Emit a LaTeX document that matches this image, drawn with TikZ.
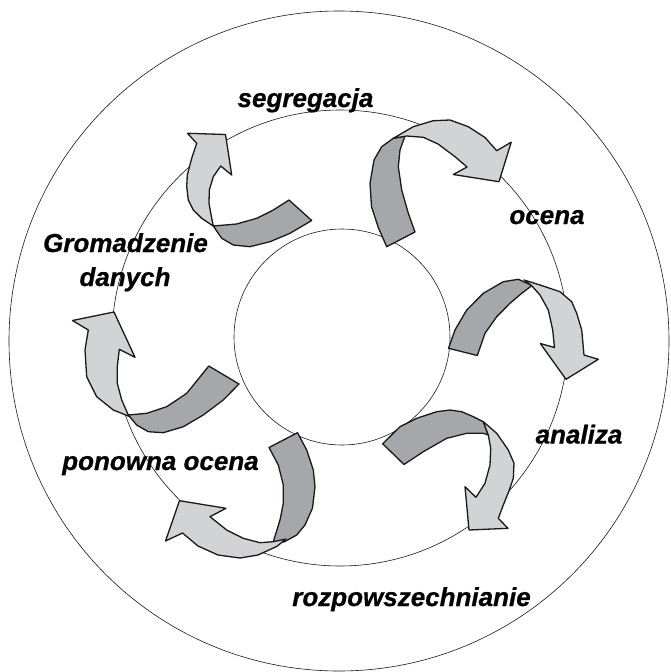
\documentclass[tikz,border=0pt]{standalone}
\usepackage{fontspec}
\setmainfont{Liberation Sans}
\newfontface\lblfont[FakeBold=0.7]{Liberation Sans Bold Italic}
\definecolor{darkfill}{RGB}{166,167,170}
\definecolor{lightfill}{RGB}{210,211,213}
\definecolor{edge}{RGB}{25,25,25}
\tikzset{
  ring/.style={draw=edge, line width=0.6pt},
  backside/.style={fill=darkfill, draw=edge, line width=1.3pt, line join=round},
  frontside/.style={fill=lightfill, draw=edge, line width=1.3pt, line join=round},
  lbl/.style={inner sep=0pt, anchor=base, font=\fontsize{26}{30}\lblfont}
}
\begin{document}
\begin{tikzpicture}[x=1pt, y=-1pt]
\fill[white] (0,0) rectangle (670,672);
\useasboundingbox (0,0) rectangle (670,672);
% circles
\draw[ring] (339,341) circle[radius=330];
\draw[ring] (340,338) circle[radius=228];
\draw[ring] (342,337) circle[radius=108];

% arrow 1 (top-left)
\draw[backside] (213.3,226) -- (236.7,224) -- (256.7,218.3) -- (273.3,210) -- (289,200) -- (311.7,220.5) -- (290,233.3) -- (270,241.7) -- (250,246.7) -- (233.3,245) -- (221.7,238.3) -- cycle;
\draw[frontside] (225.5,134.5) -- (231.7,175) -- (220.7,166) -- (213.3,176.7) -- (209.3,190) -- (209,203.3) -- (211.7,218.3) -- (213.3,226) -- (201.7,218.3) -- (193.3,210) -- (188.3,200) -- (186.7,186.7) -- (187.3,175) -- (191.7,158.3) -- (196.7,143.3) -- (187.5,133.3) -- cycle;

% arrow 2 (top-right)
\draw[backside] (386.7,246.7) -- (415,232) -- (408.3,213.3) -- (401.7,190) -- (398.3,166.7) -- (400,150) -- (405,136) -- (393.3,138.3) -- (381.7,146.7) -- (374,160) -- (370,183.3) -- (371.5,206.7) -- (378.3,227.5) -- cycle;
\draw[frontside] (393.3,138.3) -- (413.3,126.7) -- (433.3,120.7) -- (450,120) -- (468.3,126.7) -- (485,137.5) -- (496.7,150.7) -- (511.2,142.2) -- (499,181.7) -- (453.3,174.5) -- (467,167) -- (455,156.7) -- (438,144) -- (423.3,137.3) -- (406.7,136) -- cycle;

% arrow 3 (right)
\draw[backside] (448.5,348.3) -- (477.3,355.5) -- (485,333.3) -- (496.7,316.7) -- (510,303.3) -- (521.7,293.3) -- (532,285.5) -- (518.3,279.3) -- (503.3,281.7) -- (483.3,293.3) -- (466.7,310) -- (455,330) -- cycle;
\draw[frontside] (524,280) -- (540,285) -- (560,291.7) -- (571.7,301.7) -- (576.7,313.3) -- (581.7,330) -- (584,355) -- (598.3,359.3) -- (566,379.3) -- (540.3,343.5) -- (554.5,347.5) -- (552.7,330) -- (548.3,310) -- (540,295) -- (532,286) -- cycle;

% arrow 4 (bottom-right)
\draw[backside] (382.7,443.8) -- (404,464.5) -- (423.3,451.7) -- (446.7,438.3) -- (466.7,433.3) -- (483.3,433.3) -- (488.3,435) -- (483.3,421.7) -- (473.3,416.7) -- (461.7,411.7) -- (450,410) -- (436.7,411.7) -- (416.7,418.3) -- (400,426.7) -- cycle;
\draw[frontside] (483.3,421.7) -- (496.7,433.3) -- (508.3,450) -- (514,463.3) -- (513.3,478.3) -- (509.3,490) -- (503.3,505) -- (498.3,518.3) -- (508,528.3) -- (469,530) -- (465,486.7) -- (476,497.3) -- (485,483.3) -- (490,465) -- (490.7,448.3) -- (488.3,435) -- cycle;

% arrow 5 (bottom-left)
\draw[backside] (269,447.5) -- (297.5,432.7) -- (306.7,450) -- (313.3,470) -- (315,486.7) -- (312.5,508) -- (305,525) -- (296.7,535) -- (284,542) -- (273.3,541.7) -- (280,520) -- (283.3,503.3) -- (283.3,485) -- (278.3,465) -- cycle;
\draw[frontside] (179.5,500.7) -- (226,508.3) -- (210,516.7) -- (226.7,530) -- (243.3,538.3) -- (260,542.7) -- (273.3,541.7) -- (286,539) -- (276.7,546.5) -- (258,555) -- (240,558) -- (218,555) -- (198,546) -- (182.5,533) -- (165.5,541) -- cycle;

% arrow 6 (left)
\draw[backside] (128.3,415) -- (146.7,413.3) -- (166.7,406.7) -- (186.7,393.3) -- (208.8,366) -- (239,384) -- (223.3,400) -- (203.3,415) -- (183.3,426.7) -- (163.3,432.7) -- (148.3,431.7) -- (136.7,425) -- cycle;
\draw[frontside] (114,312) -- (135,357.3) -- (119.3,349.3) -- (117.3,366.7) -- (117.3,383.3) -- (121.7,400) -- (128.3,415) -- (130,416.7) -- (113.3,410) -- (96.7,396.7) -- (86.7,376.7) -- (85,350) -- (88.3,330) -- (72.5,320.5) -- cycle;

% labels
\node[lbl] (seg) at (305.5,107) {segregacja};
\node[lbl] (oce) at (547,224) {ocena};
\node[lbl] (gro) at (125.5,252) {Gromadzenie};
\node[lbl] (dan) at (125,286) {danych};
\node[lbl] (ana) at (579,443.5) {analiza};
\node[lbl] (pon) at (160.5,470) {ponowna ocena};
\node[lbl] (roz) at (411.5,606) {rozpowszechnianie};
\end{tikzpicture}
\end{document}
